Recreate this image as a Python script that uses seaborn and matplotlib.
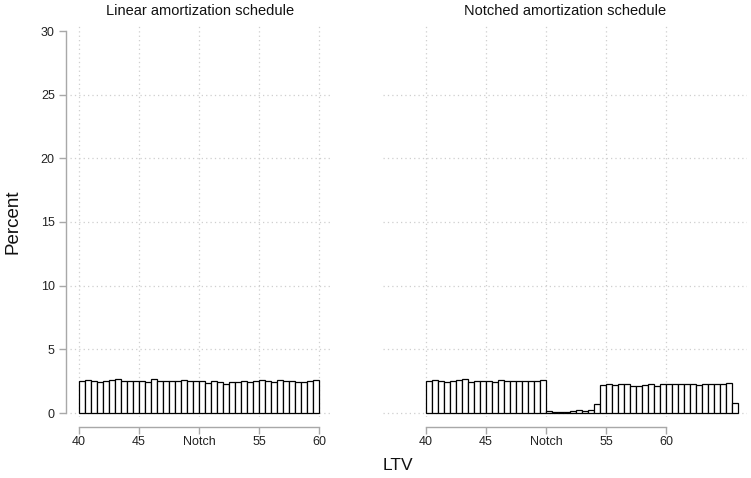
import numpy as np
import pandas as pd
import matplotlib
matplotlib.use("Agg")
import matplotlib.pyplot as plt
import seaborn as sns

# Share of loans (percent) in each 0.5-point LTV bin
linear_bin_start = np.arange(40.0, 60.0, 0.5)
linear_pct = [2.49, 2.62, 2.54, 2.43, 2.54, 2.62, 2.70, 2.49, 2.54, 2.54,
              2.54, 2.46, 2.65, 2.54, 2.54, 2.54, 2.49, 2.59, 2.54, 2.54,
              2.49, 2.38, 2.49, 2.41, 2.30, 2.41, 2.46, 2.49, 2.41, 2.54,
              2.59, 2.54, 2.43, 2.59, 2.49, 2.49, 2.43, 2.43, 2.54, 2.59]

notched_bin_start = np.arange(40.0, 66.0, 0.5)
notched_pct = [2.49, 2.62, 2.54, 2.43, 2.54, 2.62, 2.67, 2.43, 2.54, 2.54,
               2.54, 2.46, 2.62, 2.54, 2.54, 2.54, 2.54, 2.49, 2.49, 2.59,
               0.13, 0.05, 0.08, 0.08, 0.13, 0.21, 0.13, 0.26, 0.73, 2.23,
               2.28, 2.20, 2.28, 2.30, 2.09, 2.12, 2.20, 2.28, 2.15, 2.28,
               2.28, 2.28, 2.28, 2.25, 2.28, 2.20, 2.25, 2.25, 2.25, 2.28,
               2.36, 0.79]

titles = ["Linear amortization schedule", "Notched amortization schedule"]
x_ticks = [40, 45, 50, 55, 60]
x_tick_labels = ["40", "45", "Notch", "55", "60"]
y_ticks = [0, 5, 10, 15, 20, 25, 30]

sns.set_theme(style="white")
plt.rcParams["font.family"] = ["Liberation Sans", "DejaVu Sans"]

W, H = 751, 478
fig = plt.figure(figsize=(W / 100, H / 100), dpi=100)
fig.patch.set_facecolor("white")

top_px, bot_px = 25, 417
px_per_pct = (413 - 31) / 30.0
ylim = (-(bot_px - 413) / px_per_pct, (413 - top_px) / px_per_pct)


def panel(left_px, width_px):
    return fig.add_axes([left_px / W, 1 - bot_px / H, width_px / W,
                         (bot_px - top_px) / H])


ax_l = panel(70, 260)
ax_r = panel(383, 364)
xlims = [(39.25, 60.917), (36.417, 66.75)]

spine_grey = "#a8a8a8"
grid_grey = "#cfcfcf"

datasets = [(ax_l, linear_bin_start, linear_pct),
            (ax_r, notched_bin_start, notched_pct)]

for i, (ax, starts, pct) in enumerate(datasets):
    df = pd.DataFrame({"ltv": starts + 0.25, "pct": pct})
    lo = float(starts[0])
    hi = float(starts[-1]) + 0.5
    sns.histplot(data=df, x="ltv", weights="pct", binwidth=0.5,
                 binrange=(lo, hi), ax=ax, color="white", edgecolor="black",
                 linewidth=0.9, alpha=1, zorder=3)
    ax.set_xlim(*xlims[i])
    ax.set_ylim(*ylim)
    ax.set_facecolor("white")

    # dotted reference grid
    for gy in y_ticks[:-1]:
        ax.axhline(gy, color=grid_grey, lw=0.9, ls=(0, (1, 2.5)), zorder=1)
    for gx in x_ticks:
        ax.axvline(gx, color=grid_grey, lw=0.9, ls=(0, (1, 2.5)), zorder=1)

    ax.set_xticks(x_ticks)
    ax.set_xticklabels(x_tick_labels)
    ax.set_xlabel("")
    ax.set_ylabel("")
    ax.set_title(titles[i], fontsize=10.5, color="#111111", pad=0, y=1.026)

    for s in ["top", "right"]:
        ax.spines[s].set_visible(False)
    ax.spines["bottom"].set_bounds(40, 60)
    ax.spines["bottom"].set_position(("outward", 7))
    ax.spines["bottom"].set_color(spine_grey)
    ax.spines["bottom"].set_linewidth(1.0)
    ax.tick_params(axis="x", direction="out", length=5, width=1.0,
                   color=spine_grey, labelsize=9, labelcolor="#222222", pad=2,
                   bottom=True)

    if i == 0:
        ax.set_yticks(y_ticks)
        ax.spines["left"].set_bounds(0, 30)
        ax.spines["left"].set_position(("outward", 3))
        ax.spines["left"].set_color(spine_grey)
        ax.spines["left"].set_linewidth(1.0)
        ax.tick_params(axis="y", direction="out", length=5, width=1.0,
                       color=spine_grey, labelsize=9, labelcolor="#222222",
                       pad=3, left=True)
    else:
        ax.spines["left"].set_visible(False)
        ax.set_yticks([])

fig.text(13 / W, 1 - 222 / H, "Percent", rotation=90, ha="center",
         va="center", fontsize=13.5, color="#111111")
fig.text(398 / W, 1 - 466 / H, "LTV", ha="center", va="center",
         fontsize=12.5, color="#111111")

fig.savefig("out.png", dpi=100, facecolor="white")
